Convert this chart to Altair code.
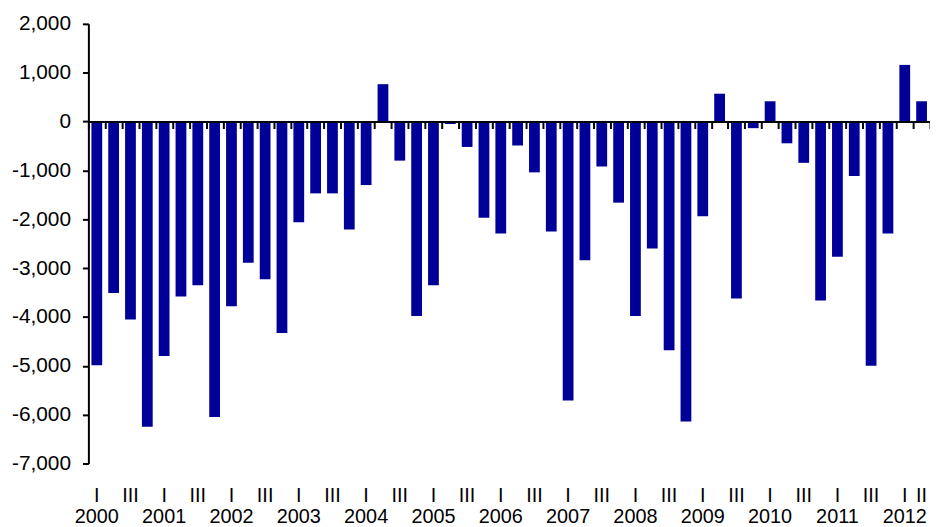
import altair as alt
import pandas as pd

# ---- data ----
years = list(range(2000, 2013))
quarters = [1, 2, 3, 4]
values = [
    -4990, -3510, -4050, -6250,   # 2000
    -4800, -3580, -3350, -6050,   # 2001
    -3780, -2890, -3230, -4330,   # 2002
    -2060, -1470, -1470, -2210,   # 2003
    -1300, 765, -800, -3980,      # 2004
    -3350, -50, -520, -1970,      # 2005
    -2290, -490, -1040, -2250,    # 2006
    -5710, -2840, -920, -1660,    # 2007
    -3980, -2600, -4680, -6140,   # 2008
    -1940, 570, -3620, -135,      # 2009
    415, -445, -845, -3665,       # 2010
    -2765, -1115, -5000, -2290,   # 2011
    1160, 415,                    # 2012
]
periods = [f"{y} Q{q}" for y in years for q in quarters][: len(values)]
y_ticks = list(range(-7000, 2001, 1000))
roman = ["I", "II", "III", "IV"]

df = pd.DataFrame({"period": periods, "value": values})

# ---- layout ----
Y_MIN, Y_MAX = y_ticks[0], y_ticks[-1]
PLOT_W, PLOT_H = 848, 443
zero_offset = -PLOT_H * (0 - Y_MIN) / (Y_MAX - Y_MIN)
FONT = "Liberation Sans"

x_scale = alt.Scale(paddingInner=0, paddingOuter=0)
y_scale = alt.Scale(domain=[Y_MIN, Y_MAX], nice=False)

last_q = int(periods[-1][-1])
label_expr = (
    f"substring(datum.value, 5) == 'Q1' ? ['{roman[0]}', substring(datum.value, 0, 4)] : "
    f"substring(datum.value, 5) == 'Q3' ? '{roman[2]}' : "
    f"datum.value == '{periods[-1]}' ? '{roman[last_q - 1]}' : ''"
)

bars = alt.Chart(df).mark_bar(color="#000099", width={"band": 0.64}).encode(
    x=alt.X(
        "period:N",
        sort=periods,
        scale=x_scale,
        axis=alt.Axis(
            orient="bottom",
            title=None,
            domain=False,
            ticks=False,
            labelExpr=label_expr,
            labelAngle=0,
            labelFont=FONT,
            labelFontSize=20,
            labelLineHeight=21,
            labelColor="black",
            labelPadding=22,
            labelOverlap=False,
            labelBound=False,
            labelFlush=False,
        ),
    ),
    y=alt.Y(
        "value:Q",
        scale=y_scale,
        axis=alt.Axis(
            values=y_ticks,
            format=",d",
            labelExpr="replace(datum.label, '\u2212', '-')",
            grid=False,
            title=None,
            domainColor="black",
            domainWidth=2,
            tickColor="black",
            tickSize=6,
            tickWidth=2,
            labelFont=FONT,
            labelFontSize=21,
            labelColor="black",
            labelPadding=12,
        ),
    ),
)

zero_axis = alt.Chart(df).mark_bar(opacity=0).encode(
    x=alt.X(
        "period:N",
        sort=periods,
        scale=x_scale,
        axis=alt.Axis(
            orient="bottom",
            offset=zero_offset,
            title=None,
            labels=False,
            domain=True,
            domainColor="black",
            domainWidth=2,
            ticks=True,
            tickBand="extent",
            tickSize=7,
            tickWidth=2,
            tickColor="black",
            zindex=1,
        ),
    ),
    y=alt.Y("value:Q", scale=y_scale, axis=None),
)

chart = (
    alt.layer(bars, zero_axis)
    .resolve_axis(x="independent", y="independent")
    .properties(
        width=PLOT_W,
        height=PLOT_H,
        padding={"left": 81, "top": 14, "right": 0, "bottom": 62},
        autosize=alt.AutoSizeParams(type="none"),
        background="white",
    )
    .configure_view(stroke=None)
)

chart.save("out.html", embed_options={"renderer": "svg", "actions": False})
